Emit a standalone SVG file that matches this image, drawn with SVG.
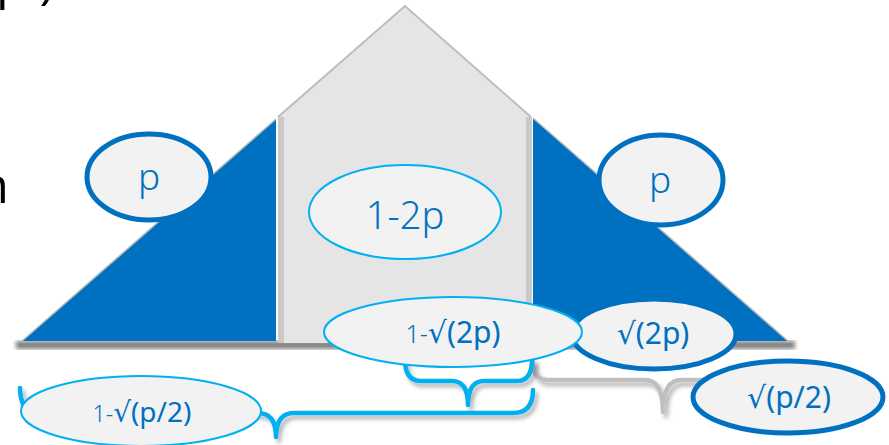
<svg xmlns="http://www.w3.org/2000/svg" width="889" height="445" viewBox="0 0 889 445">
<style>
.lbl{font-family:"Noto Sans","DejaVu Sans","Liberation Sans",sans-serif;fill:#0070c0;text-anchor:middle;font-weight:300}
.reg{font-weight:400}
.dark{stroke:#0070c0;stroke-width:5;fill:#f2f2f2}
.light{stroke:#00b0f0;stroke-width:2;fill:#f2f2f2}
.brace{fill:none;stroke-width:4.5;stroke-linecap:round;stroke-linejoin:round}
.frag{font-family:"Open Sans","Noto Sans","Liberation Sans",sans-serif;fill:#000;font-size:50px}
</style>
<defs>
<filter id="sh" x="-10%" y="-50%" width="120%" height="200%">
<feGaussianBlur in="SourceAlpha" stdDeviation="2"/>
<feOffset dx="3" dy="4" result="b"/>
<feComponentTransfer><feFuncA type="linear" slope="0.3"/></feComponentTransfer>
<feMerge><feMergeNode/><feMergeNode in="SourceGraphic"/></feMerge>
</filter>
<filter id="blur"><feGaussianBlur stdDeviation="2"/></filter>
</defs>
<rect width="889" height="445" fill="#fff"/>
<text class="frag" x="-4" y="-2">p )</text>
<text class="frag" x="9" y="203" text-anchor="end">n</text>
<g id="house">
<rect x="16" y="341" width="779" height="8" fill="#7f7f7f" filter="url(#blur)"/>
<polygon points="278,117 405,6 531,117 531,343 278,343" fill="#e5e5e5"/>
<polyline points="278,117 405,6 531,117" fill="none" stroke="#bdbdbd" stroke-width="2"/>
<rect x="278" y="117" width="6" height="226" fill="#c9c9c9"/>
<rect x="526" y="117" width="6" height="226" fill="#c9c9c9"/>
<polygon points="22,341 276,119 276,341" fill="#0070c0"/>
<line x1="22" y1="341" x2="276" y2="119" stroke="#bdbdbd" stroke-width="1.5"/>
<polygon points="533,118 533,341 788,341" fill="#0070c0"/>
<line x1="533" y1="118" x2="788" y2="341" stroke="#bdbdbd" stroke-width="1.5"/>
</g>
<g id="connectors">
<path class="brace" stroke="#bfbfbf" filter="url(#sh)" d="M533,362 Q533,380 548,380 L645,380 Q663,380 663,412 Q663,380 681,380 L720,380"/>
<path class="brace" stroke="#00b0f0" filter="url(#sh)" d="M405,360 Q405,381 421,381 L452,381 Q468,381 468,405 Q468,381 484,381 L517,381 Q532,381 532,360"/>
<path class="brace" stroke="#00b0f0" filter="url(#sh)" d="M20,388 Q20,413 40,413 L258,413 Q276,413 276,437 Q276,413 294,413 L513,413 Q533,413 533,390"/>
</g>
<g id="node-p-left">
<ellipse class="dark" cx="149" cy="177" rx="62" ry="43"/>
<text class="lbl" x="149" y="190" font-size="37">p</text>
</g>
<g id="node-p-right">
<ellipse class="dark" cx="661" cy="180" rx="62" ry="45"/>
<text class="lbl" x="660" y="193" font-size="37">p</text>
</g>
<g id="node-1-2p">
<ellipse class="light" cx="405" cy="212" rx="96" ry="47"/>
<text class="lbl" x="405" y="229" font-size="38">1-2p</text>
</g>
<g id="node-sqrt2p">
<ellipse class="dark" cx="654" cy="334" rx="82" ry="35"/>
<text class="lbl reg" x="653" y="344" font-size="30">√(2p)</text>
</g>
<g id="node-1-sqrt2p">
<ellipse class="light" cx="453" cy="332" rx="129" ry="35"/>
<text class="lbl" x="453" y="343" font-size="30"><tspan font-size="25">1-</tspan><tspan class="reg">√(2p)</tspan></text>
</g>
<g id="node-sqrtp2">
<ellipse class="dark" cx="788" cy="397" rx="95" ry="36"/>
<text class="lbl reg" x="789" y="408" font-size="30">√(p/2)</text>
</g>
<g id="node-1-sqrtp2">
<ellipse class="light" cx="141" cy="411" rx="120" ry="35"/>
<text class="lbl" x="142" y="422" font-size="28"><tspan font-size="23">1-</tspan><tspan class="reg">√(p/2)</tspan></text>
</g>
</svg>
